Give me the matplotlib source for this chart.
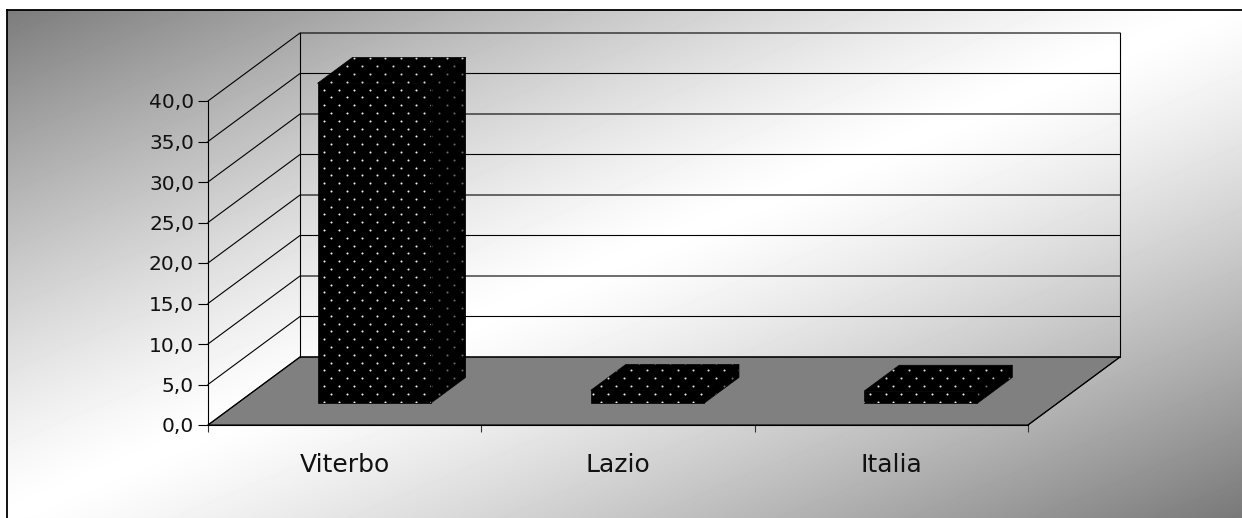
import matplotlib
matplotlib.use('Agg')
import matplotlib.pyplot as plt
import numpy as np
from matplotlib.patches import Polygon

# dati del grafico
categorie = ['Viterbo', 'Lazio', 'Italia']
valori = [39.5, 1.6, 1.5]
tick_y = [0, 5, 10, 15, 20, 25, 30, 35, 40]

W, H = 1242, 518
fig = plt.figure(figsize=(W / 100, H / 100), dpi=100)

# sfondo con gradiente diagonale (grigio -> bianco -> grigio)
bg = fig.add_axes([0, 0, 1, 1])
bg.set_xlim(0, W)
bg.set_ylim(H, 0)
bg.axis('off')
yy, xx = np.mgrid[0:H, 0:W]
t = xx / W + yy / H
grad = 0.47 + 0.53 * (1 - np.abs(t - 1) ** 1.25)
grad[(xx < 7) | (yy < 10)] = 1.0
bg.imshow(grad, cmap='gray', vmin=0, vmax=1, extent=(0, W, H, 0),
          aspect='auto', interpolation='bilinear', zorder=0)
bg.plot([7, 7], [H + 5, 10], color='black', lw=1.3, zorder=1)
bg.plot([7, W + 5], [10, 10], color='black', lw=1.3, zorder=1)

# piano frontale del grafico
ax = fig.add_axes([208 / W, 93 / H, 820 / W, 324 / H])
ax.set_xlim(0, 3)
ax.set_ylim(0, 40)
ax.patch.set_visible(False)

# profondita' 3D espressa in unita' dati
KX = 92 / 820 * 3
KV = 68 / 324 * 40


def proj(x, v, d):
    return x + d * KX, v + d * KV


# pavimento
floor = Polygon([proj(0, 0, 0), proj(3, 0, 0), proj(3, 0, 1), proj(0, 0, 1)],
                closed=True, facecolor='#808080', edgecolor='black', lw=0.8,
                clip_on=False, zorder=1)
ax.add_patch(floor)

# griglia sulle pareti
for v in tick_y:
    xa, ya = proj(0, v, 0)
    xb, yb = proj(0, v, 1)
    xc, yc = proj(3, v, 1)
    ax.plot([xa, xb, xc], [ya, yb, yc], color='black', lw=0.8,
            clip_on=False, zorder=2)
for x in [0, 3]:
    xa, ya = proj(x, 0, 1)
    xb, yb = proj(x, 40, 1)
    ax.plot([xa, xb], [ya, yb], color='black', lw=0.8, clip_on=False, zorder=2)
xa, ya = proj(3, 0, 0)
xb, yb = proj(3, 0, 1)
ax.plot([xa, xb], [ya, yb], color='black', lw=0.8, clip_on=False, zorder=2)

# trama a puntini
SX = 15.4 / 820 * 3
SY = 7.8 / 324 * 40


def puntini(pts, colore, z):
    pts = np.array(pts)
    patch = Polygon(pts, closed=True, facecolor='black', edgecolor='black',
                    lw=0.5, clip_on=False, zorder=z)
    ax.add_patch(patch)
    r0 = int(np.floor(pts[:, 1].min() / SY)) - 1
    r1 = int(np.ceil(pts[:, 1].max() / SY)) + 1
    px, py = [], []
    for r in range(r0, r1 + 1):
        off = (SX / 2) if r % 2 else 0
        c0 = int(np.floor(pts[:, 0].min() / SX)) - 1
        c1 = int(np.ceil(pts[:, 0].max() / SX)) + 1
        for c in range(c0, c1 + 1):
            px.append(c * SX + off)
            py.append(r * SY)
    sc = ax.scatter(px, py, s=2.2, color=colore, linewidths=0,
                    clip_on=True, zorder=z + 0.1)
    sc.set_clip_path(patch)


D0, D1 = 0.32, 0.70
MEZZA = 0.207
for i, v in enumerate(valori):
    c = i + 0.5
    x0, x1 = c - MEZZA, c + MEZZA
    z = 3 + i
    # lato destro
    puntini([proj(x1, 0, D0), proj(x1, 0, D1), proj(x1, v, D1), proj(x1, v, D0)],
            '#6a6a6a', z)
    # faccia superiore
    puntini([proj(x0, v, D0), proj(x1, v, D0), proj(x1, v, D1), proj(x0, v, D1)],
            '#e0e0e0', z + 0.2)
    # faccia frontale
    puntini([proj(x0, 0, D0), proj(x1, 0, D0), proj(x1, v, D0), proj(x0, v, D0)],
            '#f0f0f0', z + 0.4)

# assi
for s in ['top', 'right']:
    ax.spines[s].set_visible(False)
for s in ['left', 'bottom']:
    ax.spines[s].set_linewidth(0.8)
    ax.spines[s].set_zorder(2.5)
ax.set_yticks(tick_y)
ax.set_yticklabels([f'{v:.1f}'.replace('.', ',') for v in tick_y])
ax.tick_params(axis='y', length=7, width=0.8, pad=3, labelsize=14.5,
               labelcolor='#111111')
ax.set_xticks([0, 1, 2, 3])
ax.set_xticklabels([])
ax.set_xticks([0.5, 1.5, 2.5], minor=True)
ax.set_xticklabels(categorie, minor=True)
ax.tick_params(axis='x', which='major', length=5, width=0.8, color='#333333')
ax.tick_params(axis='x', which='minor', length=0, pad=20, labelsize=18,
               labelcolor='#111111')

fig.savefig('out.png', dpi=100)
